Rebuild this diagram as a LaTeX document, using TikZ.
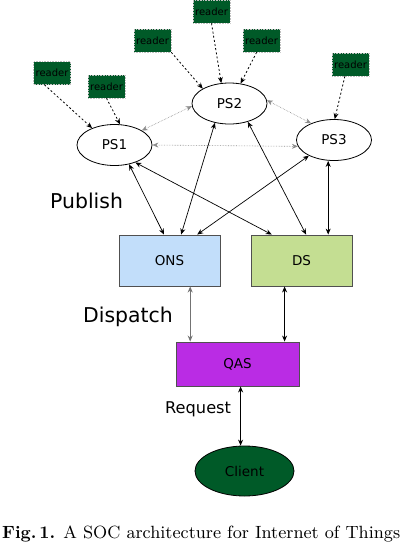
\documentclass[tikz,border=0pt]{standalone}
\usepackage{fontspec}
\setmainfont{Latin Modern Roman}
\newfontfamily\dejavu{DejaVu Sans}
\newfontfamily\capfont{lmroman9-regular}[Extension=.otf, BoldFont=lmroman10-bold]
\usetikzlibrary{shapes.geometric,arrows.meta,calc}
\definecolor{readergreen}{RGB}{0,90,40}
\definecolor{onsblue}{RGB}{194,222,250}
\definecolor{dsgreen}{RGB}{196,222,146}
\definecolor{qaspurple}{RGB}{186,44,228}
\definecolor{boxborder}{RGB}{80,80,80}
\tikzset{
  readerbox/.style={rectangle, fill=readergreen, draw=black!25, densely dotted, line width=0.6pt,
    minimum width=37pt, minimum height=23pt, inner sep=0pt,
    font=\dejavu\fontsize{10}{12}\selectfont, text=black},
  psnode/.style={ellipse, draw=black, line width=0.8pt, fill=white, minimum width=75pt,
    minimum height=41pt, inner sep=0pt, font=\dejavu\fontsize{13.5}{16}\selectfont},
  svcbox/.style={rectangle, draw=boxborder, line width=0.9pt, minimum width=101pt,
    minimum height=51pt, inner sep=0pt, font=\dejavu\fontsize{13.5}{16}\selectfont},
  readerarrow/.style={-{Stealth[length=6pt,width=5pt]}, line width=0.8pt, dash pattern=on 2pt off 2.2pt},
  peerarrow/.style={{Stealth[length=6pt,width=5pt]}-{Stealth[length=6pt,width=5pt]}, draw=black!45,
    line width=0.6pt, densely dotted},
  mainarrow/.style={{Stealth[length=6pt,width=5pt]}-{Stealth[length=6pt,width=5pt]}, line width=0.7pt},
  biglabel/.style={anchor=base west, inner sep=0pt, font=\dejavu\fontsize{20.4}{24}\selectfont},
}
\begin{document}
\begin{tikzpicture}[x=1pt,y=-1pt]
\useasboundingbox (0,0) rectangle (413,547);
% reader boxes
\node[readerbox] (r1) at (52,73) {reader};
\node[readerbox] (r2) at (106.5,86.5) {reader};
\node[readerbox] (r3) at (152.5,40.5) {reader};
\node[readerbox] (r4) at (211.5,11.5) {reader};
\node[readerbox] (r5) at (261.5,40.5) {reader};
\node[readerbox] (r6) at (350.5,64.5) {reader};
% publish/subscribe servers
\node[psnode] (PS1) at (114.5,145) {PS1};
\node[psnode] (PS2) at (229.5,103.5) {PS2};
\node[psnode] (PS3) at (334,140) {PS3};
% services
\node[svcbox, fill=onsblue] (ONS) at (169.5,260.5) {ONS};
\node[svcbox, fill=dsgreen] (DS) at (301.5,260.5) {DS};
\node[svcbox, fill=qaspurple, minimum width=123pt, minimum height=44pt] (QAS) at (237.5,364) {QAS};
\node[ellipse, draw=black, line width=0.8pt, fill=readergreen, minimum width=99pt, minimum height=50pt,
  inner sep=0pt, font=\dejavu\fontsize{13.5}{16}\selectfont] (Client) at (244.5,471) {Client};
% labels
\node[biglabel] (lpub) at (50,208) {Publish};
\node[biglabel] (ldis) at (83,322.7) {Dispatch};
\node[anchor=base west, inner sep=0pt, font=\dejavu\fontsize{16.2}{19}\selectfont] (lreq) at (165,413.5) {Request};
% reader arrows
\draw[readerarrow] ($(r1.south west)!0.3!(r1.south east)$) -- (PS1.143);
\draw[readerarrow] (r2.south) -- (PS1.75);
\draw[readerarrow] (r3.south east) -- (PS2.151);
\draw[readerarrow] (r4.south) -- (PS2.112);
\draw[readerarrow] ($(r5.south west)!0.37!(r5.south east)$) -- (PS2.61);
\draw[readerarrow] ($(r6.south west)!0.35!(r6.south east)$) -- (PS3.88);
% peer arrows
\draw[peerarrow] (PS1.28) -- (PS2.184);
\draw[peerarrow] (PS2.5) -- (PS3.144);
\draw[peerarrow] (PS1.east) -- (PS3.190);
% main arrows
\draw[mainarrow] (PS1.-53) -- ($(ONS.north west)!0.446!(ONS.north east)$);
\draw[mainarrow] (PS1.-40) -- ($(DS.north west)!0.208!(DS.north east)$);
\draw[mainarrow] (PS2.-127) -- ($(ONS.north west)!0.614!(ONS.north east)$);
\draw[mainarrow] (PS2.-45) -- ($(DS.north west)!0.545!(DS.north east)$);
\draw[mainarrow] (PS3.-148) -- ($(ONS.north west)!0.772!(ONS.north east)$);
\coordinate (dsin) at ($(DS.north west)!0.762!(DS.north east)$);
\draw[mainarrow] (PS3.south -| dsin) -- (dsin);
% dispatch arrows
\coordinate (onsout) at ($(ONS.south west)!0.703!(ONS.south east)$);
\draw[mainarrow, draw=black!55, line width=1.2pt] (onsout) -- (QAS.north -| onsout);
\coordinate (dsout) at ($(DS.south west)!0.334!(DS.south east)$);
\draw[mainarrow] (dsout) -- (QAS.north -| dsout);
% request
\coordinate (qasout) at ($(QAS.south west)!0.525!(QAS.south east)$);
\draw[mainarrow] (qasout) -- (Client.north -| qasout);
% caption
\node[anchor=base west, inner sep=0pt, font=\capfont\fontsize{17.7}{20}\selectfont] (cap) at (2,538) {\textbf{Fig.\,1.} A SOC architecture for Internet of Things};
\end{tikzpicture}
\end{document}
